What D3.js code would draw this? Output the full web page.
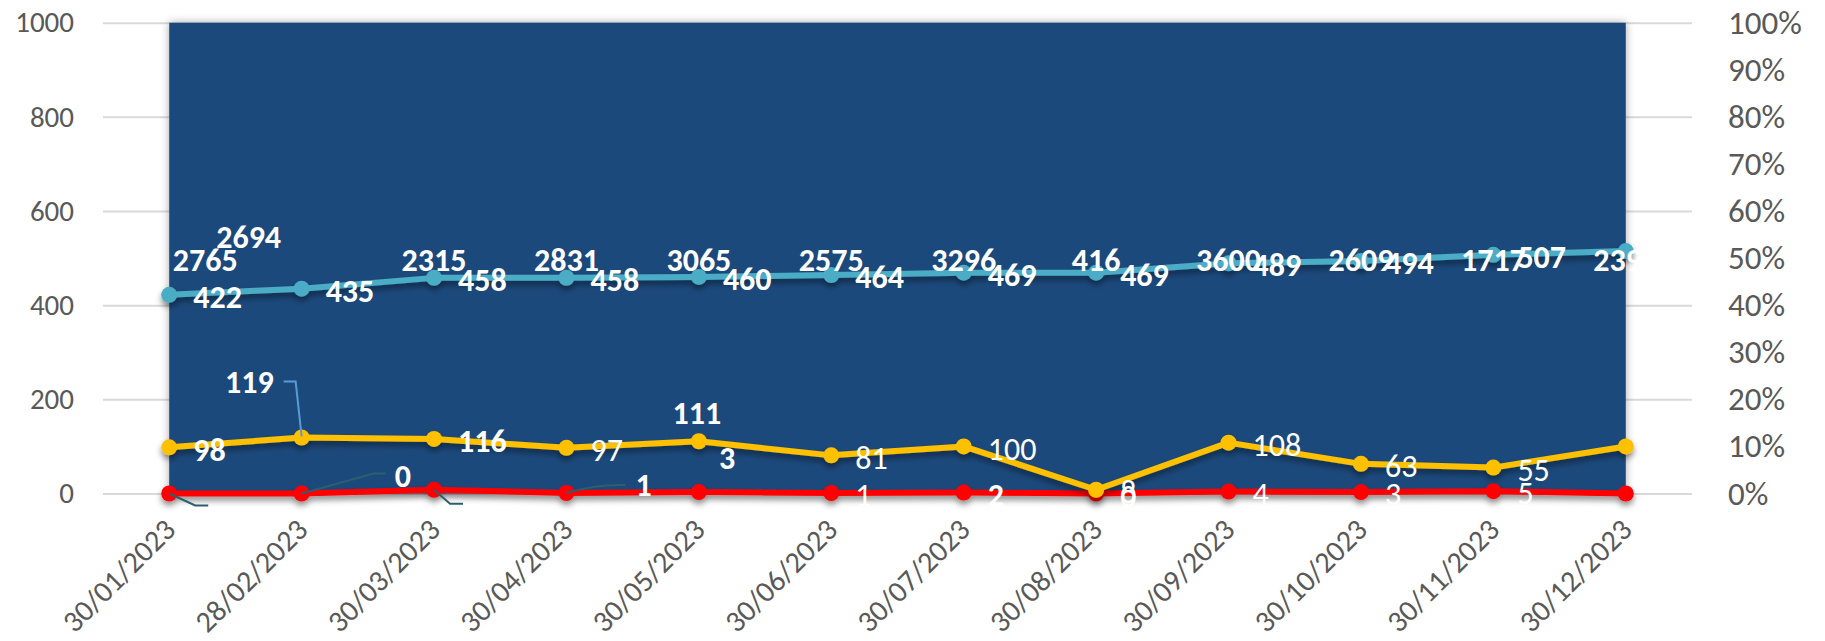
<!DOCTYPE html>
<html>
<head>
<meta charset="utf-8">
<script src="https://cdn.jsdelivr.net/npm/d3@7"></script>
<style>
  body { margin: 0; background: #fff; }
  svg { display: block; font-family: Carlito, Calibri, Lato, sans-serif; }
</style>
</head>
<body>
<div id="chart"></div>
<script>
// chart values
const dates = ["30/01/2023", "28/02/2023", "30/03/2023", "30/04/2023", "30/05/2023", "30/06/2023",
  "30/07/2023", "30/08/2023", "30/09/2023", "30/10/2023", "30/11/2023", "30/12/2023"];
const coverage = [100, 100, 100, 100, 100, 100, 100, 100, 100, 100, 100, 100];
const blueValues = [422, 435, 458, 458, 460, 464, 469, 469, 489, 494, 507, 515];
const yellowValues = [98, 119, 116, 97, 111, 81, 100, 8, 108, 63, 55, 100];
const redValues = [0, 0, 8, 1, 3, 1, 2, 0, 4, 3, 5, 0];
const totals = ["2765", "2694", "2315", "2831", "3065", "2575", "3296", "416", "3600", "2609", "1717", "2395"];
const leftTicks = [0, 200, 400, 600, 800, 1000];
const rightTicks = [0, 10, 20, 30, 40, 50, 60, 70, 80, 90, 100];

const width = 1825;
const height = 641;
const plotLeft = 103;
const plotRight = 1692;
const plotTop = 22.7;
const plotBottom = 493.5;
const fontStack = "Carlito, Calibri, Lato, sans-serif";

const svg = d3.select("#chart").append("svg")
  .attr("width", width)
  .attr("height", height);

const defs = svg.append("defs");
defs.append("filter").attr("id", "areaShadow")
  .attr("x", "-5%").attr("y", "-5%").attr("width", "110%").attr("height", "110%")
  .append("feDropShadow")
  .attr("dx", 0).attr("dy", 0).attr("stdDeviation", 4)
  .attr("flood-color", "#000").attr("flood-opacity", 0.35);
defs.append("filter").attr("id", "lineShadow")
  .attr("x", "-5%").attr("y", "-50%").attr("width", "110%").attr("height", "200%")
  .append("feDropShadow")
  .attr("dx", 0).attr("dy", 4).attr("stdDeviation", 3)
  .attr("flood-color", "#000").attr("flood-opacity", 0.45);
defs.append("clipPath").attr("id", "labelClip")
  .append("rect").attr("x", 0).attr("y", 0).attr("width", 1641).attr("height", height);

const x = d3.scaleBand().domain(dates).range([plotLeft, plotRight]);
const px = d => x(d) + x.bandwidth() / 2;
const yLeft = d3.scaleLinear().domain([0, 1000]).range([plotBottom, plotTop]);
const yRight = d3.scaleLinear().domain([0, 100]).range([plotBottom, plotTop]);

// gridlines + left axis
const gLeft = svg.append("g")
  .attr("transform", `translate(${plotLeft},0)`)
  .call(d3.axisLeft(yLeft).tickValues(leftTicks).tickFormat(d3.format("d"))
    .tickSize(-(plotRight - plotLeft)).tickPadding(29));
gLeft.select(".domain").remove();
gLeft.selectAll("line").attr("stroke", "#d9d9d9").attr("stroke-width", 2);
gLeft.selectAll("text").attr("fill", "#595959").style("font-size", "29px")
  .style("font-family", fontStack);

// right axis
const gRight = svg.append("g")
  .attr("transform", `translate(${plotRight},0)`)
  .call(d3.axisRight(yRight).tickValues(rightTicks).tickSize(0).tickPadding(36).tickFormat(d => d + "%"));
gRight.select(".domain").remove();
gRight.selectAll("text").attr("fill", "#595959").style("font-size", "33px")
  .style("font-family", fontStack);

// x axis
const gx = svg.append("g")
  .attr("transform", `translate(0,${plotBottom})`)
  .call(d3.axisBottom(x).tickSize(0));
gx.select(".domain").remove();
gx.selectAll("text")
  .attr("fill", "#595959").style("font-size", "30px")
  .style("font-family", fontStack)
  .attr("text-anchor", "end")
  .attr("x", 0).attr("y", 0).attr("dy", 0)
  .attr("transform", "translate(8,38) rotate(-45)");

// dark background area (secondary axis)
const area = d3.area()
  .x((d, i) => px(dates[i]))
  .y0(yRight(0))
  .y1(d => yRight(d));
svg.append("path")
  .datum(coverage)
  .attr("d", area)
  .attr("fill", "#1f497b")
  .attr("filter", "url(#areaShadow)");

// lines
const series = [
  { values: redValues, color: "#ff0000" },
  { values: yellowValues, color: "#ffc000" },
  { values: blueValues, color: "#4bacc6" }
];
const line = d3.line()
  .x((d, i) => px(dates[i]))
  .y(d => yLeft(d));

series.forEach(s => {
  const g = svg.append("g").attr("filter", "url(#lineShadow)");
  g.append("path")
    .datum(s.values)
    .attr("d", line)
    .attr("fill", "none")
    .attr("stroke", s.color)
    .attr("stroke-width", 6)
    .attr("stroke-linejoin", "round");
  g.selectAll("circle")
    .data(s.values)
    .join("circle")
    .attr("cx", (d, i) => px(dates[i]))
    .attr("cy", d => yLeft(d))
    .attr("r", 8)
    .attr("fill", s.color);
});

// leader lines
const leaders = svg.append("g").attr("fill", "none").attr("stroke-width", 2);
function pt(i, v) { return [px(dates[i]), yLeft(v)]; }
{
  const [x0, y0] = pt(0, redValues[0]);
  leaders.append("path").attr("stroke", "#2c5f6e")
    .attr("d", `M${x0},${y0}L${x0 + 26},${y0 + 12}L${x0 + 39},${y0 + 12}`);
  const [x1, y1] = pt(1, redValues[1]);
  leaders.append("path").attr("stroke", "#2c5f6e")
    .attr("d", `M${x1},${y1}L${x1 + 72},${y1 - 20}L${x1 + 84},${y1 - 20}`);
  const [x2, y2] = pt(2, redValues[2]);
  leaders.append("path").attr("stroke", "#2c5f6e")
    .attr("d", `M${x2},${y2}L${x2 + 16},${y2 + 14}L${x2 + 29},${y2 + 14}`);
  const [x3, y3] = pt(3, redValues[3]);
  leaders.append("path").attr("stroke", "#2c5f6e")
    .attr("d", `M${x3},${y3}Q${x3 + 30},${y3 - 9} ${x3 + 59},${y3 - 8}`);
  const [xy, yy] = pt(1, yellowValues[1]);
  leaders.append("path").attr("stroke", "#5b9bd5")
    .attr("d", `M${xy},${yy - 1}L${xy - 6},${yy - 56}L${xy - 18},${yy - 56}`);
}

// data labels
const labels = svg.append("g").attr("fill", "#fff").style("font-size", "32px");
function label(text, lx, ly, anchor, bold) {
  labels.append("text")
    .attr("x", lx).attr("y", ly).attr("dy", "0.35em")
    .attr("text-anchor", anchor)
    .attr("font-weight", bold ? 700 : 400)
    .text(text);
}

// totals row above the blue line
const totalsG = svg.append("g").attr("clip-path", "url(#labelClip)")
  .attr("fill", "#fff").style("font-size", "32px").attr("font-weight", 700);
totals.forEach((t, i) => {
  let lx = px(dates[i]);
  let ly = 260;
  if (i === 0) lx += 36;
  if (i === 1) { lx -= 53; ly = 237; }
  totalsG.append("text").attr("x", lx).attr("y", ly).attr("dy", "0.35em")
    .attr("text-anchor", "middle").text(t);
});

// blue labels: right of each point
blueValues.forEach((v, i) => {
  if (i === blueValues.length - 1) return;
  label(v, px(dates[i]) + 24, yLeft(v) + 2, "start", true);
});

// yellow labels
const yellowBold = [true, true, true, false, true, false, false, false, false, false, false, false];
yellowValues.forEach((v, i) => {
  if (i === yellowValues.length - 1) return;
  const [lx, ly] = pt(i, v);
  if (i === 1) label(v, lx - 28, ly - 56, "end", true);
  else if (i === 4) label(v, lx - 2, ly - 28, "middle", true);
  else label(v, lx + 24, ly + 2, "start", yellowBold[i]);
});

// red labels (those below the plot are white on white, as in the source)
const redBold = [true, true, true, true, true, false, true, false, false, false, false, false];
redValues.forEach((v, i) => {
  if (i === redValues.length - 1) return;
  const [lx, ly] = pt(i, v);
  if (i === 0) label(v, lx + 44, ly + 30, "start", true);
  else if (i === 1) label(v, lx + 93, ly - 18, "start", true);
  else if (i === 2) label(v, lx + 34, ly + 30, "start", true);
  else if (i === 3) label(v, lx + 69, ly - 8, "start", true);
  else if (i === 4) label(v, lx + 20, ly - 34, "start", true);
  else label(v, lx + 24, ly + 2, "start", redBold[i]);
});
</script>
</body>
</html>
